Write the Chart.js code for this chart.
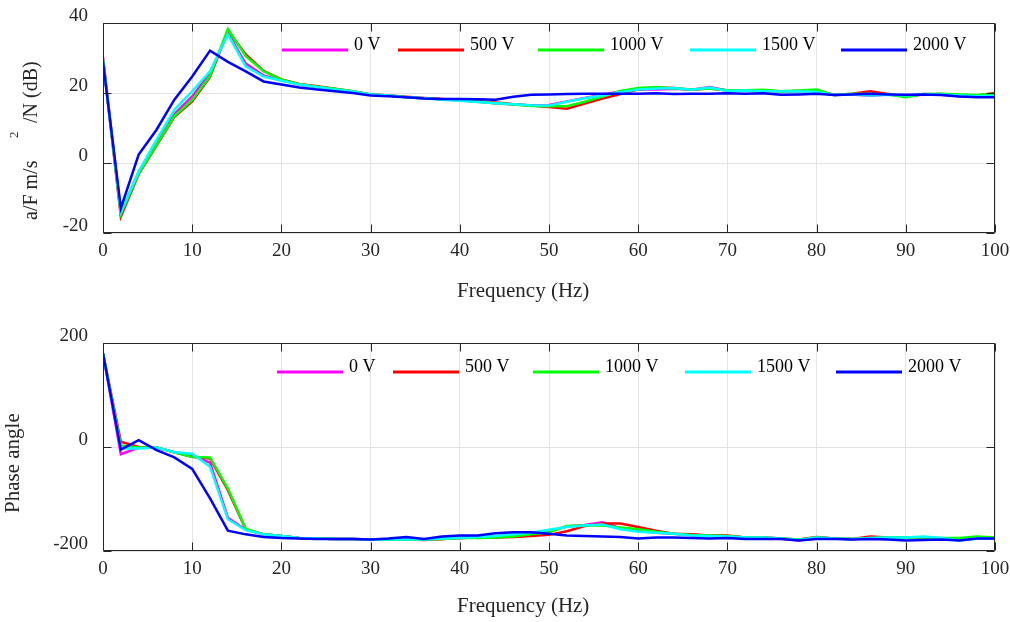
<!DOCTYPE html>
<html>
<head>
<meta charset="utf-8">
<script src="https://cdn.jsdelivr.net/npm/chart.js@4.4.1/dist/chart.umd.min.js"></script>
<style>
  html, body { margin: 0; padding: 0; background: #fff; }
  .panel { position: relative; width: 1010px; height: 311px; }
</style>
</head>
<body>
<div class="panel"><canvas id="graf-mag" width="1010" height="311"></canvas></div>
<div class="panel"><canvas id="graf-fase" width="1010" height="311"></canvas></div>
<script>
// datos (cada 2 Hz)
const FREQ = [0, 2, 4, 6, 8, 10, 12, 14, 16, 18, 20, 22, 24, 26, 28, 30, 32, 34, 36, 38, 40,
  42, 44, 46, 48, 50, 52, 54, 56, 58, 60, 62, 64, 66, 68, 70, 72, 74, 76, 78, 80,
  82, 84, 86, 88, 90, 92, 94, 96, 98, 100];

const SERIES = ['0 V', '500 V', '1000 V', '1500 V', '2000 V'];
const COLORES = ['#ff00ff', '#ff0000', '#00ff00', '#00ffff', '#0000ff'];

const MAG_0V = [30.2, -14.3, -2.6, 5.8, 14.0, 19.0, 25.8, 37.1, 28.4, 25.0,
  23.6, 22.4, 21.8, 21.0, 20.4, 19.6, 19.3, 18.8, 18.5, 18.2,
  17.9, 17.5, 17.1, 16.8, 16.4, 16.6, 17.6, 18.6, 19.5, 20.4,
  21.0, 21.0, 21.2, 20.9, 21.7, 20.7, 20.7, 20.6, 20.4, 20.6,
  20.2, 19.4, 19.6, 19.2, 19.6, 19.0, 19.7, 19.5, 19.1, 19.0, 19.4];
const MAG_500V = [29.6, -15.3, -3.2, 5.0, 13.2, 17.6, 24.6, 37.8, 31.0, 26.3,
  23.9, 22.6, 21.9, 21.2, 20.5, 19.6, 19.3, 18.9, 18.6, 18.3,
  18.0, 17.6, 17.3, 16.8, 16.4, 16.0, 15.5, 17.0, 18.4, 19.7,
  21.0, 21.6, 21.4, 20.9, 21.3, 20.7, 20.8, 20.8, 20.4, 20.6,
  20.8, 19.4, 19.8, 20.5, 19.7, 19.0, 19.6, 19.7, 19.4, 19.3, 20.0];
const MAG_1000V = [29.5, -14.6, -3.0, 5.2, 13.4, 18.0, 24.9, 38.3, 30.5, 26.2,
  23.8, 22.5, 21.8, 21.2, 20.5, 19.6, 19.3, 18.8, 18.5, 18.2,
  17.9, 17.5, 17.1, 16.7, 16.3, 16.2, 16.2, 17.5, 19.0, 20.6,
  21.4, 21.7, 21.3, 21.0, 21.3, 20.8, 20.8, 20.9, 20.5, 20.7,
  21.0, 19.4, 19.8, 19.7, 19.6, 18.8, 19.7, 19.8, 19.6, 19.4, 19.8];
const MAG_1500V = [29.4, -14.0, -2.4, 6.6, 15.2, 20.5, 26.2, 36.7, 27.6, 24.7,
  23.5, 22.4, 21.7, 21.0, 20.4, 19.6, 19.3, 18.8, 18.5, 18.1,
  17.8, 17.4, 17.1, 16.8, 16.5, 16.4, 17.5, 18.5, 19.3, 20.2,
  21.0, 21.3, 21.4, 20.9, 21.6, 20.6, 20.7, 20.5, 20.4, 20.5,
  20.3, 19.4, 19.6, 19.3, 19.5, 19.3, 19.6, 19.6, 19.3, 19.1, 19.2];
const MAG_2000V = [28.9, -12.9, 2.4, 9.5, 18.1, 24.7, 32.1, 28.9, 26.2, 23.3,
  22.4, 21.6, 21.0, 20.5, 20.0, 19.3, 19.1, 18.8, 18.4, 18.3,
  18.3, 18.2, 18.1, 18.9, 19.5, 19.6, 19.7, 19.8, 19.8, 19.8,
  19.8, 19.9, 19.7, 19.8, 19.8, 19.9, 19.8, 19.9, 19.5, 19.6,
  19.8, 19.4, 19.6, 19.8, 19.6, 19.5, 19.6, 19.4, 19.0, 18.8, 18.8];

const FASE_0V = [180, -14, -1, -1, -10, -16, -30, -136, -159, -168,
  -171, -175, -176, -177, -177, -178, -178, -178, -178, -177,
  -175, -174, -173, -170, -168, -162, -153, -150, -145, -156,
  -161, -165, -167, -169, -170, -171, -174, -174, -176, -180,
  -174, -176, -177, -176, -174, -174, -174, -176, -177, -176, -176];
const FASE_500V = [180, 10, 0, -1, -10, -19, -22, -83, -158, -168,
  -171, -175, -176, -177, -177, -178, -178, -178, -179, -177,
  -175, -174, -174, -173, -171, -169, -162, -152, -147, -147,
  -154, -161, -167, -168, -170, -170, -174, -174, -176, -178,
  -173, -176, -177, -172, -174, -174, -174, -176, -177, -175, -174];
const FASE_1000V = [180, 3, -1, -1, -10, -19, -20, -80, -157, -168,
  -171, -175, -176, -177, -177, -178, -178, -178, -178, -177,
  -175, -175, -174, -172, -168, -164, -152, -151, -151, -155,
  -158, -163, -167, -169, -170, -171, -174, -174, -176, -178,
  -174, -176, -177, -175, -174, -174, -174, -175, -175, -172, -174];
const FASE_1500V = [180, -3, -3, -1, -10, -13, -38, -139, -160, -168,
  -171, -175, -176, -177, -177, -178, -178, -178, -178, -176,
  -175, -173, -171, -168, -165, -159, -154, -151, -149, -158,
  -163, -165, -167, -170, -171, -172, -174, -174, -176, -179,
  -174, -176, -177, -175, -174, -174, -172, -175, -180, -176, -176];
const FASE_2000V = [180, -5, 13, -6, -20, -42, -99, -161, -168, -173,
  -175, -176, -177, -177, -177, -178, -176, -173, -177, -172,
  -170, -170, -166, -164, -164, -167, -170, -171, -172, -173,
  -176, -174, -174, -175, -176, -175, -177, -177, -177, -180,
  -177, -177, -178, -177, -178, -180, -179, -178, -180, -176, -176];

const FREQ_TICKS = [0, 10, 20, 30, 40, 50, 60, 70, 80, 90, 100];
const MAG_TICKS = [-20, 0, 20, 40];
const FASE_TICKS = [-200, 0, 200];

const FUENTE = "'Liberation Serif', 'Times New Roman', serif";
const TINTA = '#262626';

const puntos = (ys) => ys.map((y, i) => ({ x: FREQ[i], y }));

/* ------------ marco, leyenda y títulos ------------- */
const marcoPlugin = {
  id: 'marco',
  afterDraw(chart, args, opts) {
    const { ctx, chartArea: a, scales } = chart;
    const L = Math.round(a.left) + 0.5, R = Math.round(a.right) - 0.5;
    const T = Math.round(a.top) + 0.5, B = Math.round(a.bottom) - 0.5;
    ctx.save();
    ctx.strokeStyle = TINTA;
    ctx.lineWidth = 1;
    ctx.beginPath();
    ctx.rect(L, T, R - L, B - T);
    scales.x.ticks.forEach(t => {
      const x = Math.round(scales.x.getPixelForValue(t.value)) + 0.5;
      ctx.moveTo(x, B); ctx.lineTo(x, B - 8);
      ctx.moveTo(x, T); ctx.lineTo(x, T + 8);
    });
    scales.y.ticks.forEach(t => {
      const y = Math.round(scales.y.getPixelForValue(t.value)) + 0.5;
      ctx.moveTo(L, y); ctx.lineTo(L + 8, y);
      ctx.moveTo(R, y); ctx.lineTo(R - 8, y);
    });
    ctx.stroke();

    // leyenda horizontal dentro del área
    const ley = opts.leyenda;
    ctx.font = `18px ${FUENTE}`;
    ctx.textAlign = 'left';
    ctx.textBaseline = 'middle';
    chart.data.datasets.forEach((ds, i) => {
      const x0 = ley.xs[i];
      ctx.strokeStyle = ds.borderColor;
      ctx.lineWidth = 3;
      ctx.beginPath();
      ctx.moveTo(x0, ley.y); ctx.lineTo(x0 + 66, ley.y);
      ctx.stroke();
      ctx.fillStyle = '#000';
      ctx.fillText(ds.label, x0 + 72, ley.y - 5);
    });

    // títulos de ejes
    ctx.fillStyle = TINTA;
    ctx.textBaseline = 'alphabetic';
    ctx.font = `21px ${FUENTE}`;
    ctx.fillText('Frequency (Hz)', 457, opts.xTituloY);
    ctx.save();
    ctx.translate(opts.yTitulo.x, opts.yTitulo.y);
    ctx.rotate(-Math.PI / 2);
    opts.yTitulo.partes.forEach(p => {
      ctx.font = `${p.size}px ${FUENTE}`;
      ctx.fillText(p.txt, p.u, p.v);
    });
    ctx.restore();
    ctx.restore();
  }
};

function crearGrafico(id, datos, ticksY, minY, maxY, padTop, altoX, extra) {
  return new Chart(document.getElementById(id), {
    type: 'line',
    data: {
      datasets: datos.map((ys, i) => ({
        label: SERIES[i],
        data: puntos(ys),
        borderColor: COLORES[i],
        backgroundColor: COLORES[i],
        borderWidth: 2.5,
        pointRadius: 0,
        tension: 0,
        order: SERIES.length - i
      }))
    },
    options: {
      responsive: false,
      animation: false,
      devicePixelRatio: 1,
      events: [],
      layout: { padding: { left: 0, right: 15, top: padTop, bottom: 0 } },
      plugins: { legend: { display: false }, tooltip: { enabled: false }, marco: extra },
      scales: {
        x: {
          type: 'linear', min: 0, max: 100,
          afterBuildTicks: s => { s.ticks = FREQ_TICKS.map(v => ({ value: v })); },
          afterFit: s => { s.height = altoX; s.paddingLeft = 0; s.paddingRight = 0; },
          grid: { color: '#e3e3e3', drawTicks: false },
          border: { display: false },
          ticks: { padding: 7, color: TINTA, font: { family: FUENTE, size: 19 }, maxRotation: 0 }
        },
        y: {
          min: minY, max: maxY,
          afterBuildTicks: s => { s.ticks = ticksY.map(v => ({ value: v })); },
          afterFit: s => { s.width = 103; s.paddingTop = 0; s.paddingBottom = 0; },
          grid: { color: '#e3e3e3', drawTicks: false },
          border: { display: false },
          ticks: { padding: 15, labelOffset: -7, color: TINTA, font: { family: FUENTE, size: 19 } }
        }
      }
    },
    plugins: [marcoPlugin]
  });
}

crearGrafico('graf-mag', [MAG_0V, MAG_500V, MAG_1000V, MAG_1500V, MAG_2000V],
  MAG_TICKS, -20, 40, 23, 78, {
    leyenda: { y: 50, xs: [282, 398, 538, 690, 841] },
    xTituloY: 297,
    yTitulo: {
      x: 37, y: 220,
      partes: [
        { txt: 'a/F m/s', u: 0, v: 0, size: 20 },
        { txt: '2', u: 82, v: -19, size: 13 },
        { txt: '/N (dB)', u: 97, v: 0, size: 20 }
      ]
    }
  });

crearGrafico('graf-fase', [FASE_0V, FASE_500V, FASE_1000V, FASE_1500V, FASE_2000V],
  FASE_TICKS, -200, 200, 32, 71, {
    leyenda: { y: 61, xs: [277, 393, 533, 685, 836] },
    xTituloY: 301,
    yTitulo: {
      x: 19, y: 202,
      partes: [{ txt: 'Phase angle', u: 0, v: 0, size: 21 }]
    }
  });
</script>
</body>
</html>
